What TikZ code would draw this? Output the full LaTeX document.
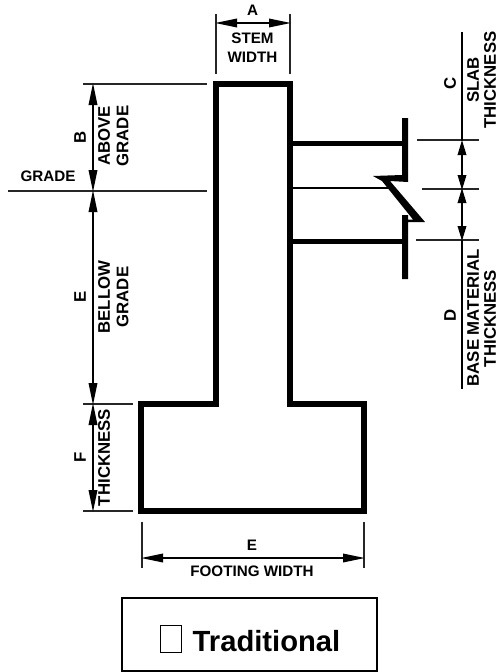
\documentclass[tikz,border=0pt]{standalone}
\usepackage{fontspec}
\setmainfont{Liberation Sans}
\usetikzlibrary{arrows.meta}
\tikzset{
  x=1pt,y=-1pt,
  wall/.style={line width=6pt,miter limit=20,line join=miter},
  slab/.style={line width=5pt},
  ext/.style={line width=1.8pt,draw=black!85},
  dim/.style={line width=1.8pt,{Triangle[length=22pt,width=8.5pt]}-{Triangle[length=22pt,width=8.5pt]},shorten >=-1pt,shorten <=-1pt},
  shortdim/.style={line width=1.8pt,{Triangle[length=15pt,width=8.5pt]}-{Triangle[length=15pt,width=8.5pt]},shorten >=-1pt,shorten <=-1pt},
  plain/.style={line width=2pt},
  lab/.style={font=\bfseries\fontsize{15.2}{17}\selectfont,inner sep=0pt,align=center},
  rlab/.style={font=\bfseries\fontsize{16.8}{18}\selectfont,inner sep=0pt,align=center,rotate=90},
}
\begin{document}
\begin{tikzpicture}
\useasboundingbox (0,0) rectangle (498,672);
% structure
\draw[wall] (216,83.5) -- (290,83.5) -- (290,404) -- (364,404) -- (364,511) -- (141,511) -- (141,404) -- (216,404) -- cycle;
\draw[slab] (290,143) -- (405,143);
\draw[slab] (290,241) -- (405,241);
\draw[line width=2pt] (290,188) -- (388,188);
\fill[black] (402,118) -- (408,118) -- (408,182) -- (390,181) -- (425,222) -- (408,222) -- (408,279) -- (402,279) -- (402,215) -- (408,215) -- (408,219.5) -- (413,219.5) -- (382,181) -- (373,176) -- (402,175) -- cycle;
% extension coordinates
\coordinate (gt) at (93,84);
\coordinate (gg) at (93,191);
\coordinate (gf) at (93,404);
\coordinate (gb) at (93,511);
\coordinate (rt) at (462,141);
\coordinate (rm) at (462,189);
\coordinate (rb) at (462,240);
\coordinate (ra) at (462,32);
\coordinate (rz) at (462,389);
\coordinate (al) at (216,23);
\coordinate (ar) at (290,23);
\coordinate (fl) at (142,558);
\coordinate (fr) at (364,558);
\draw[ext] (83,84) -- (207,84);
\draw[ext] (8,191) -- (207,191);
\draw[ext] (83,404) -- (133,404);
\draw[ext] (83,511) -- (133,511);
\draw[ext] (216,14) -- (216,74);
\draw[ext] (290,14) -- (290,74);
\draw[ext] (142,522) -- (142,568);
\draw[ext] (364,522) -- (364,568);
\draw[ext] (417,140) -- (479,140);
\draw[ext] (422,189) -- (479,189);
\draw[ext] (416,240) -- (479,240);
% dimensions
\draw[dim] (gt) -- (gg);
\draw[dim] (gg) -- (gf);
\draw[dim] (gf) -- (gb);
\draw[dim] (al) -- (ar);
\draw[dim] (fl) -- (fr);
\draw[plain] (ra) -- (rt);
\draw[plain] (rb) -- (rz);
\draw[shortdim] (rt) -- (rm);
\draw[shortdim] (rm) -- (rb);
% labels
\node[lab] (a) at (252.5,10) {A};
\node[lab] (st) at (252.5,38) {STEM};
\node[lab] (wd) at (252.5,57) {WIDTH};
\node[rlab] (b) at (80,137) {B};
\node[rlab] (ab) at (104,136) {ABOVE};
\node[rlab] (ag) at (122.5,136) {GRADE};
\node[lab] (gr) at (48,176) {GRADE};
\node[rlab] (e) at (80,297) {E};
\node[rlab] (be) at (104,297) {BELLOW};
\node[rlab] (bg) at (122.5,297) {GRADE};
\node[rlab] (f) at (80,457) {F};
\node[rlab] (th) at (104,457.5) {THICKNESS};
\node[lab] (e2) at (252,545) {E};
\node[lab] (fw) at (252,571) {FOOTING WIDTH};
\node[rlab] (c) at (450,83) {C};
\node[rlab] (sl) at (473,80) {SLAB};
\node[rlab] (t1) at (490,80) {THICKNESS};
\node[rlab] (d) at (450,315) {D};
\node[rlab] (bm) at (473,318) {BASE MATERIAL};
\node[rlab] (t2) at (490,318.5) {THICKNESS};
% legend
\node[draw,line width=1.5pt,minimum width=255pt,minimum height=73pt,inner sep=0pt] (box) at (249.5,634.5) {};
\node[draw,line width=1pt,minimum width=21pt,minimum height=27pt,inner sep=0pt] (chk) at (170.5,638.5) {};
\node[font=\bfseries\fontsize{29.2}{31}\selectfont,inner sep=0pt] (tr) at (266.5,641) {Traditional};
\end{tikzpicture}
\end{document}
